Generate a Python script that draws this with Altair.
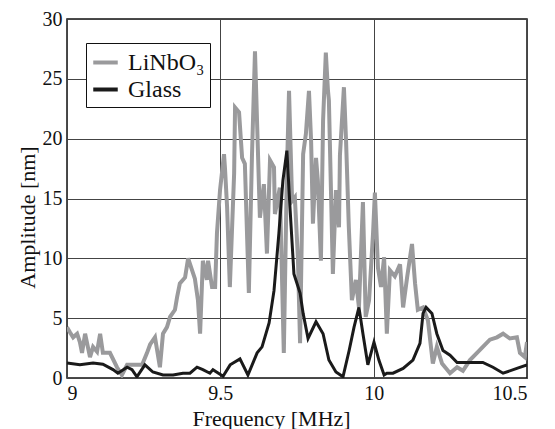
import altair as alt
import pandas as pd

series_names = ["LiNbO₃", "Glass"]
x_ticks = [9, 9.5, 10, 10.5]
y_ticks = [0, 5, 10, 15, 20, 25, 30]

freq_linbo3 = [
    9.000, 9.010, 9.020, 9.033, 9.042, 9.049, 9.059, 9.075, 9.085, 9.098,
    9.108, 9.117, 9.140, 9.163, 9.179, 9.196, 9.215, 9.245, 9.261, 9.271,
    9.287, 9.303, 9.313, 9.326, 9.336, 9.352, 9.359, 9.368, 9.385, 9.395,
    9.408, 9.417, 9.427, 9.434, 9.443, 9.456, 9.460, 9.473, 9.483, 9.489,
    9.499, 9.512, 9.515, 9.522, 9.531, 9.545, 9.548, 9.561, 9.571, 9.580,
    9.593, 9.603, 9.613, 9.620, 9.629, 9.642, 9.652, 9.662, 9.675, 9.678,
    9.694, 9.707, 9.717, 9.724, 9.734, 9.743, 9.753, 9.760, 9.770, 9.779,
    9.789, 9.796, 9.802, 9.812, 9.818, 9.828, 9.835, 9.844, 9.851, 9.854,
    9.867, 9.877, 9.887, 9.890, 9.903, 9.910, 9.919, 9.929, 9.942, 9.952,
    9.965, 9.974, 9.985, 9.998, 10.004, 10.014, 10.024, 10.034, 10.043, 10.053,
    10.069, 10.086, 10.096, 10.109, 10.125, 10.135, 10.144, 10.161, 10.177, 10.193,
    10.206, 10.223, 10.249, 10.272, 10.291, 10.314, 10.337, 10.356, 10.379, 10.402,
    10.422, 10.444, 10.467, 10.477, 10.493, 10.500,
]
amp_linbo3 = [
    4.25, 3.8, 3.4, 3.7, 3.0, 2.1, 3.7, 1.75, 2.6, 2.2,
    3.7, 2.1, 2.1, 0.9, 0.25, 1.1, 1.1, 1.1, 2.1, 2.8,
    3.4, 0.9, 3.7, 4.25, 5.1, 5.7, 6.75, 7.9, 8.4, 10.0,
    9.0, 8.3, 6.5, 3.7, 9.8, 8.2, 9.8, 7.6, 7.6, 12.1,
    15.7, 18.7, 17.6, 14.3, 7.6, 17.1, 22.6, 22.2, 18.4, 17.9,
    7.1, 18.4, 27.3, 21.2, 13.4, 16.2, 10.4, 18.2, 17.6, 13.7,
    15.9, 2.1, 17.1, 24.0, 14.8, 15.1, 10.0, 2.9, 18.7, 20.4,
    24.0, 19.8, 12.9, 18.4, 16.5, 9.8, 21.5, 27.2, 24.0, 23.2,
    8.7, 15.7, 12.6, 18.6, 24.3, 19.8, 12.6, 6.5, 8.2, 5.9,
    14.7, 5.1, 6.5, 12.1, 15.5, 9.2, 7.6, 10.1, 3.7, 9.0,
    8.5, 9.5, 5.9, 8.4, 11.2, 7.9, 5.7, 5.9, 4.8, 1.2,
    2.6, 1.2, 0.4, 0.9, 0.6, 1.5, 2.1, 2.6, 3.2, 3.4,
    3.7, 3.3, 3.4, 2.1, 1.75, 3.0,
]

freq_glass = [
    9.000, 9.042, 9.085, 9.117, 9.150, 9.166, 9.196, 9.212, 9.228, 9.254,
    9.280, 9.313, 9.346, 9.378, 9.401, 9.424, 9.443, 9.466, 9.476, 9.509,
    9.532, 9.564, 9.590, 9.620, 9.636, 9.659, 9.675, 9.691, 9.704, 9.717,
    9.727, 9.740, 9.760, 9.770, 9.786, 9.812, 9.835, 9.854, 9.877, 9.900,
    9.920, 9.936, 9.952, 9.965, 9.981, 10.001, 10.017, 10.034, 10.043, 10.063,
    10.096, 10.128, 10.151, 10.161, 10.171, 10.190, 10.206, 10.226, 10.249, 10.272,
    10.314, 10.356, 10.389, 10.422, 10.467, 10.500,
]
amp_glass = [
    1.25, 1.1, 1.25, 1.15, 0.7, 0.4, 0.9, 0.7, 0.1, 1.1,
    0.5, 0.25, 0.25, 0.4, 0.4, 0.9, 0.7, 0.4, 0.7, 0.15,
    1.1, 1.6, 0.25, 2.1, 2.6, 4.6, 7.3, 12.1, 16.5, 19.0,
    14.3, 8.7, 7.1, 5.4, 3.3, 4.7, 3.7, 1.5, 0.5, 0.1,
    2.3, 4.25, 5.9, 3.7, 1.1, 3.0, 1.5, 0.25, 0.4, 0.4,
    0.8, 1.5, 2.9, 5.4, 5.9, 5.4, 3.7, 2.3, 1.9, 1.3,
    1.3, 1.3, 0.9, 0.4, 0.8, 1.1,
]

df_l = pd.DataFrame({"f": freq_linbo3, "a": amp_linbo3, "s": series_names[0]})
df_g = pd.DataFrame({"f": freq_glass, "a": amp_glass, "s": series_names[1]})

FONT = "'Liberation Serif', 'Times New Roman', Times, serif"

color = alt.Color(
    "s:N",
    scale=alt.Scale(domain=series_names, range=["#9a9a9c", "#1a1a1a"]),
    legend=alt.Legend(
        title=None,
        orient="none",
        legendX=19,
        legendY=24,
        direction="vertical",
        symbolType="stroke",
        symbolSize=600,
        symbolStrokeWidth=4,
        labelFont=FONT,
        labelFontSize=24,
        labelColor="#111",
        labelOffset=8,
        rowPadding=0,
        padding=5,
        strokeColor="#111",
        fillColor="white",
    ),
)

x = alt.X(
    "f:Q",
    scale=alt.Scale(domain=[9, 10.5], nice=False, zero=False),
    axis=alt.Axis(
        values=x_ticks,
        labelExpr="'' + datum.value",
        labelFont=FONT,
        titleFont=FONT,
        title="Frequency [MHz]",
        titleX=204,
        titleY=47,
        titleBaseline="alphabetic",
        labelPadding=5,
    ),
)
y = alt.Y(
    "a:Q",
    scale=alt.Scale(domain=[0, 30], nice=False),
    axis=alt.Axis(
        values=y_ticks,
        labelFont=FONT,
        titleFont=FONT,
        title="Amplitude [nm]",
        titleAngle=270,
        titleX=-40,
        titleY=198,
        titleAlign="center",
        titleBaseline="middle",
        labelPadding=5,
    ),
)

gray = alt.Chart(df_l).mark_line(strokeWidth=4, clip=True).encode(x=x, y=y, color=color)
black = alt.Chart(df_g).mark_line(strokeWidth=3, clip=True).encode(x=x, y=y, color=color)

chart = (
    alt.layer(gray, black)
    .properties(
        width=460,
        height=359,
        autosize=alt.AutoSizeParams(type="none"),
        padding={"left": 59, "top": 11, "right": 20, "bottom": 51},
        background="white",
    )
    .configure(font=FONT)
    .configure_view(stroke="#111", strokeWidth=1.5)
    .configure_axis(
        domain=False,
        ticks=False,
        grid=True,
        gridColor="#444",
        gridWidth=1,
        gridOpacity=1,
        labelFont=FONT,
        labelFontSize=20,
        labelColor="#111",
        titleFont=FONT,
        titleFontSize=22,
        titleFontWeight="normal",
        titleColor="#111",
    )
    .configure_legend(labelFont=FONT)
)

chart.save("out.html", embed_options={"renderer": "svg", "actions": False})
